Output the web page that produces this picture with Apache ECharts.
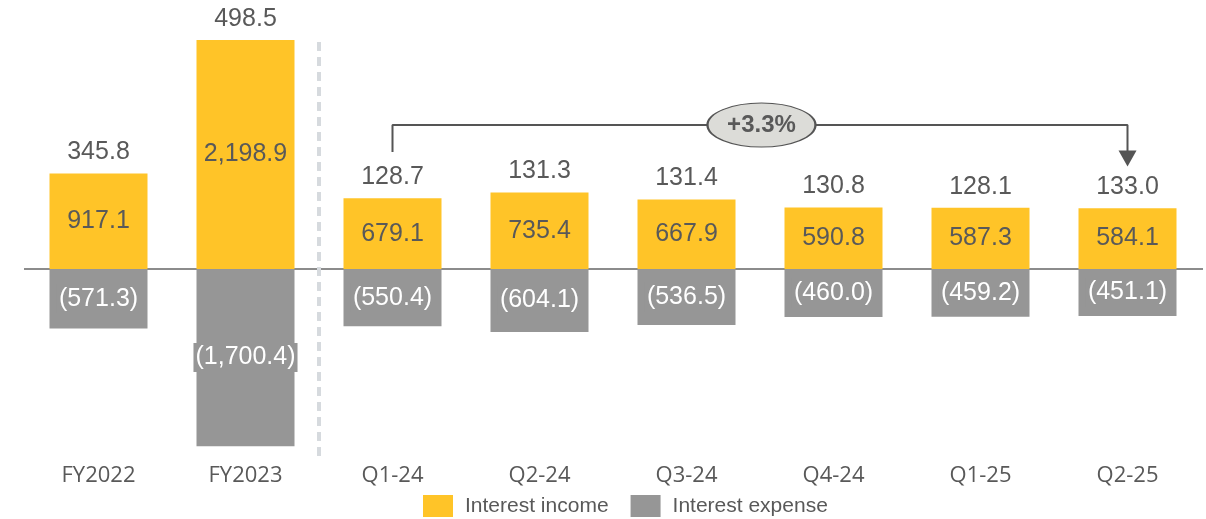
<!DOCTYPE html>
<html><head><meta charset="utf-8">
<script src="https://cdn.jsdelivr.net/npm/echarts@6/dist/echarts.min.js"></script>
<style>html,body{margin:0;padding:0;background:#fff}#c{width:1206px;height:519px}</style>
</head><body><div id="c"></div>
<script>
const categories = ['FY2022','FY2023','Q1-24','Q2-24','Q3-24','Q4-24','Q1-25','Q2-25'];
const interestIncome = [917.1, 2198.9, 679.1, 735.4, 667.9, 590.8, 587.3, 584.1];
const interestExpense = [-571.3, -1700.4, -550.4, -604.1, -536.5, -460.0, -459.2, -451.1];
const netIncome = [345.8, 498.5, 128.7, 131.3, 131.4, 130.8, 128.1, 133.0];
const growthLabel = '+3.3%';

const YELLOW = '#FFC428', GRAY = '#969696', TXT = '#595959';
const fmt = v => Math.abs(v).toLocaleString('en-US',{minimumFractionDigits:1,maximumFractionDigits:1});

const chart = echarts.init(document.getElementById('c'));
chart.setOption({
  animation:false,
  grid:{left:25,right:5,top:19,bottom:62.5},
  legend:{
    top:490,left:418,itemWidth:30,itemHeight:22,itemGap:22,
    textStyle:{fontFamily:'Liberation Sans',fontSize:21,color:TXT,padding:[0,0,0,7]},
    data:[{name:'Interest income',icon:'rect'},{name:'Interest expense',icon:'rect'}]
  },
  xAxis:[
    {type:'category',data:categories,axisLine:{show:false},axisTick:{show:false},
     axisLabel:{margin:8,fontFamily:'Open Sans',fontSize:22,color:TXT}},
    {type:'value',min:-0.5,max:7.5,show:false}
  ],
  yAxis:{type:'value',min:-1800,max:2400,show:false,splitLine:{show:false}},
  series:[
    {name:'Interest income',type:'bar',stack:'s',data:interestIncome,barWidth:98,
     itemStyle:{color:YELLOW},
     label:{show:true,position:'inside',fontFamily:'Liberation Sans',fontSize:25,color:TXT,formatter:p=>fmt(p.value)}},
    {name:'Interest expense',type:'bar',stack:'s',data:interestExpense,barWidth:98,
     itemStyle:{color:GRAY},
     label:{show:true,position:'inside',fontFamily:'Liberation Sans',fontSize:25,color:'#fff',
       backgroundColor:GRAY,padding:[2,2],formatter:p=>'('+fmt(p.value)+')'}},
    {name:'net',type:'line',data:interestIncome,symbol:'circle',symbolSize:1,showSymbol:true,
     itemStyle:{opacity:0},lineStyle:{opacity:0},z:5,
     label:{show:true,position:'top',distance:8,fontFamily:'Liberation Sans',fontSize:25,color:TXT,opacity:1,
       formatter:p=>fmt(netIncome[p.dataIndex])}},
    {name:'zero',type:'line',xAxisIndex:1,clip:false,symbol:'none',silent:true,z:1,
     data:[[-0.67,0],[7.52,0]],lineStyle:{color:'#666',width:1.5}},
    {name:'sep',type:'line',xAxisIndex:1,clip:false,symbol:'none',silent:true,z:1,
     data:[[1.5,2180],[1.5,-1850]],lineStyle:{color:'#D6DADE',width:4,type:[9,6]}},
    {name:'bracket',type:'line',xAxisIndex:1,clip:false,silent:true,z:6,
     showSymbol:true,symbol:'none',
     data:[[2,1123],[2,1382],[7,1382],{value:[7,1060],symbol:'triangle',symbolRotate:180,symbolSize:[18,16]}],
     itemStyle:{color:'#555'},lineStyle:{color:'#555',width:2}},
    {name:'pill',type:'scatter',xAxisIndex:1,silent:true,z:10,
     data:[[4.51,1382]],symbol:'circle',symbolSize:[108,44],
     itemStyle:{color:'#DCDCD8',borderColor:'#555',borderWidth:1.5,opacity:1},
     label:{show:true,position:'inside',formatter:growthLabel,fontFamily:'Liberation Sans',fontWeight:'bold',fontSize:24,color:TXT}}
  ]
});
</script></body></html>
